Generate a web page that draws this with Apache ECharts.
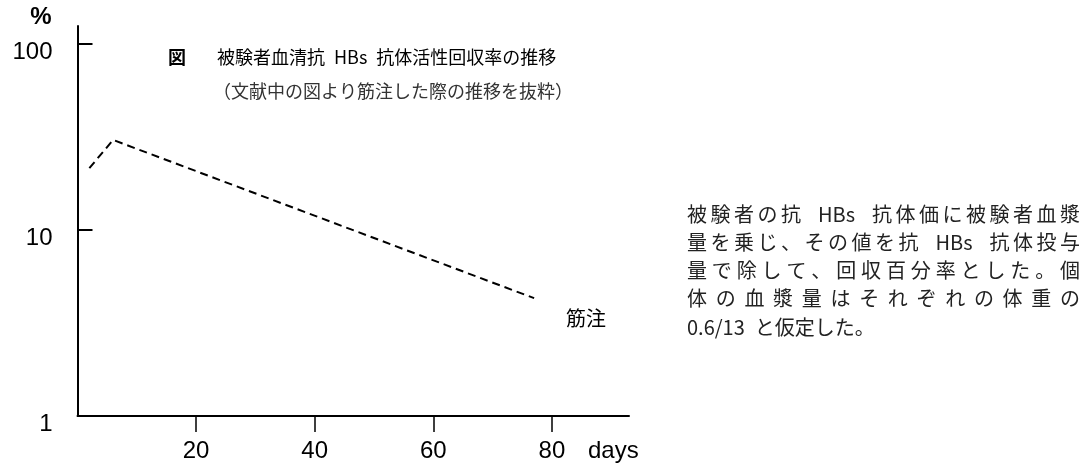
<!DOCTYPE html>
<html>
<head>
<meta charset="utf-8">
<script src="https://cdn.jsdelivr.net/npm/echarts@6/dist/echarts.min.js"></script>
<style>
  html, body { margin: 0; padding: 0; background: #fff; }
  #chart { width: 1085px; height: 466px; }
</style>
</head>
<body>
<div id="chart"></div>
<script>
// Recovery (%) of anti-HBs activity in serum after intramuscular injection
const days = [2, 6, 77];
const recovery = [21.5, 30.5, 4.3];
const seriesName = '筋注';

// Axis ticks
const xTicks = [20, 40, 60, 80];
const yTicks = [1, 10, 100];

// Texts
const titleMark = '図';
const titleText = '被験者血清抗 HBs 抗体活性回収率の推移';
const subtitleText = '（文献中の図より筋注した際の推移を抜粋）';
const noteLines = [
  '被験者の抗 HBs 抗体価に被験者血漿',
  '量を乗じ、その値を抗 HBs 抗体投与',
  '量で除して、回収百分率とした。個',
  '体の血漿量はそれぞれの体重の',
  '0.6/13 と仮定した。'
];

const NUM_FONT = "'Liberation Sans', sans-serif";
const JP_FONT = "'Noto Sans CJK JP', sans-serif";

const measureCtx = document.createElement('canvas').getContext('2d');

function tokenize(text) {
  return text.match(/[A-Za-z0-9.\/]+|./gu);
}

function tokenWidth(t, size) {
  if (t === ' ') return size * 0.5;
  measureCtx.font = size + 'px ' + JP_FONT;
  return measureCtx.measureText(t).width;
}

function glyph(t, x, y, size, color, weight) {
  return {
    type: 'text', x: x, y: y,
    style: { text: t, fontSize: size, fontFamily: JP_FONT, fontWeight: weight || 'normal', fill: color, verticalAlign: 'middle', align: 'left' }
  };
}

// Lay out a line with a fixed extra gap after every glyph
function spaced(text, x0, y, size, spacing, color, weight) {
  const out = [];
  let x = x0;
  tokenize(text).forEach(t => {
    if (t.trim()) out.push(glyph(t, x, y, size, color, weight));
    x += tokenWidth(t, size) + spacing;
  });
  return out;
}

// Spread a line's glyphs so it fills the given width (ASCII runs stay together)
function justified(text, x0, width, y, size, color) {
  const tokens = tokenize(text);
  const widths = tokens.map(t => tokenWidth(t, size));
  const total = widths.reduce((a, b) => a + b, 0);
  const gap = (width - total) / (tokens.length - 1);
  const out = [];
  let x = x0;
  tokens.forEach((t, i) => {
    if (t.trim()) out.push(glyph(t, x, y, size, color));
    x += widths[i] + gap;
  });
  return out;
}

const graphics = [
  { type: 'text', x: 41, y: 17, style: { text: '%', fontSize: 24, fontWeight: 'bold', fontFamily: NUM_FONT, fill: '#000', align: 'center', verticalAlign: 'middle' } },
  { type: 'text', x: 588, y: 451, style: { text: 'days', fontSize: 24, fontFamily: NUM_FONT, fill: '#000', align: 'left', verticalAlign: 'middle' } },
  glyph(titleMark, 168, 57, 18, '#000', 'bold')
];
graphics.push(...spaced(titleText, 217, 57, 18, 0, '#000'));
graphics.push(...spaced(subtitleText, 213, 91, 18, 0, '#333'));

const noteX = 687, noteW = 393, noteY0 = 214, noteStep = 28.3;
noteLines.forEach((line, i) => {
  const y = noteY0 + i * noteStep;
  if (i < noteLines.length - 1) {
    graphics.push(...justified(line, noteX, noteW, y, 20, '#222'));
  } else {
    graphics.push(...spaced(line, noteX, y, 20, 0, '#222'));
  }
});

const chart = echarts.init(document.getElementById('chart'), null, { renderer: 'canvas' });
chart.setOption({
  animation: false,
  backgroundColor: '#fff',
  grid: { left: 77.5, right: 456, top: 26, bottom: 50, containLabel: false },
  xAxis: {
    type: 'value',
    min: 0,
    max: 93,
    axisLine: { show: true, lineStyle: { color: '#000', width: 2 } },
    axisTick: { show: true, customValues: xTicks, length: 16, lineStyle: { color: '#000', width: 1.5 } },
    axisLabel: { customValues: xTicks, margin: 23, fontSize: 24, fontFamily: NUM_FONT, color: '#000' },
    splitLine: { show: false }
  },
  yAxis: {
    type: 'log',
    logBase: 10,
    min: 1,
    max: 125,
    axisLine: { show: true, lineStyle: { color: '#000', width: 2 } },
    axisTick: { show: true, customValues: yTicks.slice(1), inside: true, length: 15, lineStyle: { color: '#000', width: 2 } },
    axisLabel: {
      customValues: yTicks,
      margin: 25,
      formatter: v => '{v|' + Math.round(v) + '}',
      rich: { v: { fontSize: 24, fontFamily: NUM_FONT, color: '#000', padding: [16, 0, 0, 0] } }
    },
    splitLine: { show: false }
  },
  series: [{
    name: seriesName,
    type: 'line',
    data: days.map((d, i) => [d, recovery[i]]),
    showSymbol: false,
    lineStyle: { color: '#000', width: 2, type: [8, 5] },
    endLabel: {
      show: true,
      formatter: seriesName,
      offset: [24, 20],
      fontSize: 20,
      fontFamily: JP_FONT,
      color: '#000'
    }
  }],
  graphic: graphics
});
</script>
</body>
</html>
